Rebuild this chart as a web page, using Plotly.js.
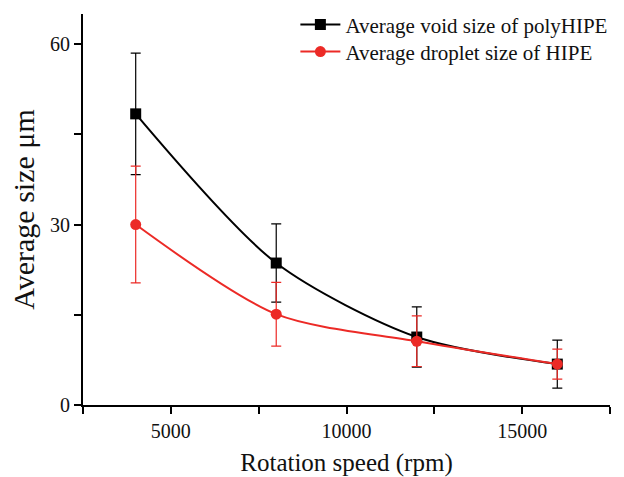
<!DOCTYPE html>
<html><head><meta charset="utf-8">
<script src="https://cdn.plot.ly/plotly-3.0.1.min.js"></script>
<style>html,body{margin:0;padding:0;background:#fff}</style>
</head><body><div id="chart" style="width:624px;height:477px"></div>
<script>
const speed = [4000, 8000, 12000, 16000];
const voidSize = [48.4, 23.6, 11.3, 6.8];
const voidErr = [10.1, 6.5, 5.0, 4.0];
const dropletSize = [30.0, 15.1, 10.6, 6.8];
const dropletErr = [9.7, 5.3, 4.2, 2.5];
const seriesNames = ['Average void size of polyHIPE', 'Average droplet size of HIPE'];

const font = 'Liberation Serif';
const traces = [
  {x: speed, y: voidSize, name: seriesNames[0], type: 'scatter', mode: 'lines+markers', legend: 'legend',
   line: {color: '#000000', width: 2, shape: 'spline', smoothing: 0.8},
   marker: {symbol: 'square', size: 11, color: '#000000'},
   error_y: {type: 'data', array: voidErr, visible: true, color: '#000000', thickness: 1.2, width: 5}},
  {x: speed, y: dropletSize, name: seriesNames[1], type: 'scatter', mode: 'lines+markers', legend: 'legend2',
   line: {color: '#ec2a26', width: 2, shape: 'spline', smoothing: 0.8},
   marker: {symbol: 'circle', size: 11, color: '#ec2a26'},
   error_y: {type: 'data', array: dropletErr, visible: true, color: '#ec2a26', thickness: 1.2, width: 5}}
];
const legendBase = {x: 0.403, xanchor: 'left', yanchor: 'middle',
  bgcolor: 'rgba(0,0,0,0)', font: {family: font, size: 21, color: '#111'}, itemwidth: 40};
const layout = {
  width: 624, height: 477,
  margin: {l: 83, r: 14, t: 14, b: 72, autoexpand: false},
  paper_bgcolor: '#fff', plot_bgcolor: '#fff',
  font: {family: font, size: 20, color: '#111'},
  showlegend: true,
  legend: Object.assign({}, legendBase, {y: 0.972}),
  legend2: Object.assign({}, legendBase, {y: 0.903}),
  xaxis: {range: [2500, 17500], tick0: 0, dtick: 5000, tickformat: 'd', showgrid: false, zeroline: false,
          showline: true, linecolor: '#000', linewidth: 2, ticks: 'outside', ticklen: 7, tickwidth: 2, tickcolor: '#000',
          minor: {dtick: 2500, ticks: 'outside', ticklen: 7, tickwidth: 2, tickcolor: '#000', showgrid: false},
          tickfont: {family: font, size: 20, color: '#111'},
          title: {text: 'Rotation speed (rpm)', font: {family: font, size: 25, color: '#111'}, standoff: 14}},
  yaxis: {range: [0, 65], tick0: 0, dtick: 30, showgrid: false, zeroline: false,
          showline: true, linecolor: '#000', linewidth: 2, ticks: 'outside', ticklen: 7, tickwidth: 2, tickcolor: '#000',
          minor: {dtick: 15, ticks: 'outside', ticklen: 7, tickwidth: 2, tickcolor: '#000', showgrid: false},
          tickfont: {family: font, size: 20, color: '#111'},
          title: {text: 'Average size μm', font: {family: font, size: 30, color: '#111'}, standoff: 7}}
};
Plotly.newPlot('chart', traces, layout, {displayModeBar: false, staticPlot: true});
</script></body></html>
